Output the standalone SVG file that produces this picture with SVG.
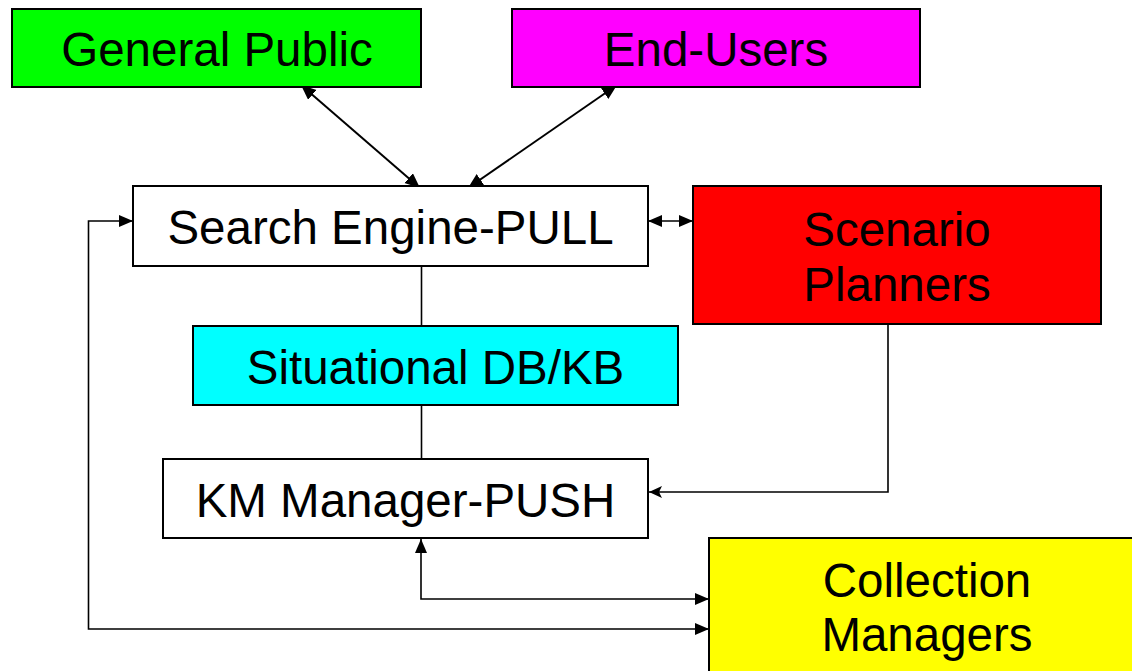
<svg xmlns="http://www.w3.org/2000/svg" width="1132" height="671" viewBox="0 0 1132 671">
  <style>
    .box { stroke: #000; stroke-width: 2; }
    .lbl { font-family: "Liberation Sans", Arial, sans-serif; font-size: 47.5px; fill: #000; text-anchor: middle; }
    .conn { fill: none; stroke: #000; stroke-width: 1.6; }
    .thick { stroke-width: 2; }
  </style>
  <defs>
    <marker id="ahL" markerUnits="userSpaceOnUse" markerWidth="16" markerHeight="14" refX="15" refY="6.5" orient="auto-start-reverse">
      <path d="M0,0 L15,6.5 L0,13 z" fill="#000"/>
    </marker>
    <marker id="ahM" markerUnits="userSpaceOnUse" markerWidth="15" markerHeight="13" refX="14" refY="6" orient="auto-start-reverse">
      <path d="M0,0 L14,6 L0,12 z" fill="#000"/>
    </marker>
    <marker id="ahS" markerUnits="userSpaceOnUse" markerWidth="14" markerHeight="13" refX="13" refY="6" orient="auto-start-reverse">
      <path d="M0,0 L13,6 L0,12 L3,6 z" fill="#000"/>
    </marker>
  </defs>
  <rect width="1132" height="671" fill="#fff"/>

  <g id="connectors">
    <line class="conn thick" x1="301" y1="85" x2="420" y2="188" marker-start="url(#ahL)" marker-end="url(#ahL)"/>
    <line class="conn thick" x1="617" y1="85" x2="468" y2="188" marker-start="url(#ahL)" marker-end="url(#ahL)"/>
    <line class="conn" x1="648" y1="221" x2="693" y2="221" marker-start="url(#ahM)" marker-end="url(#ahM)"/>
    <line class="conn" x1="421.5" y1="266" x2="421.5" y2="326"/>
    <line class="conn" x1="421.5" y1="402" x2="421.5" y2="462"/>
    <polyline class="conn" points="888,324 888,492 649,492" marker-end="url(#ahS)"/>
    <polyline class="conn" points="421,539 421,599 709,599" marker-start="url(#ahM)" marker-end="url(#ahM)"/>
    <polyline class="conn" points="133,221 88.5,221 88.5,629 709,629" marker-start="url(#ahM)" marker-end="url(#ahM)"/>
  </g>

  <g id="general-public">
    <rect class="box" x="12" y="9" width="409" height="78" fill="#00ff00"/>
    <text class="lbl" x="217" y="66">General Public</text>
  </g>
  <g id="end-users">
    <rect class="box" x="512" y="9" width="408" height="78" fill="#ff00ff"/>
    <text class="lbl" x="716" y="66">End-Users</text>
  </g>
  <g id="search-engine">
    <rect class="box" x="133" y="186" width="515" height="80" fill="#ffffff"/>
    <text class="lbl" x="390.5" y="244">Search Engine-PULL</text>
  </g>
  <g id="scenario-planners">
    <rect class="box" x="693" y="186" width="408" height="138" fill="#ff0000"/>
    <text class="lbl" x="897" y="246">Scenario</text>
    <text class="lbl" x="897" y="301">Planners</text>
  </g>
  <g id="situational-db">
    <rect class="box" x="193" y="326" width="485" height="79" fill="#00ffff"/>
    <text class="lbl" x="435.5" y="384">Situational DB/KB</text>
  </g>
  <g id="km-manager">
    <rect class="box" x="163" y="459" width="485" height="79" fill="#ffffff"/>
    <text class="lbl" x="405.5" y="517">KM Manager-PUSH</text>
  </g>
  <g id="collection-managers">
    <rect class="box" x="709" y="538" width="436" height="145" fill="#ffff00"/>
    <text class="lbl" x="927" y="597">Collection</text>
    <text class="lbl" x="927" y="651">Managers</text>
  </g>
</svg>
